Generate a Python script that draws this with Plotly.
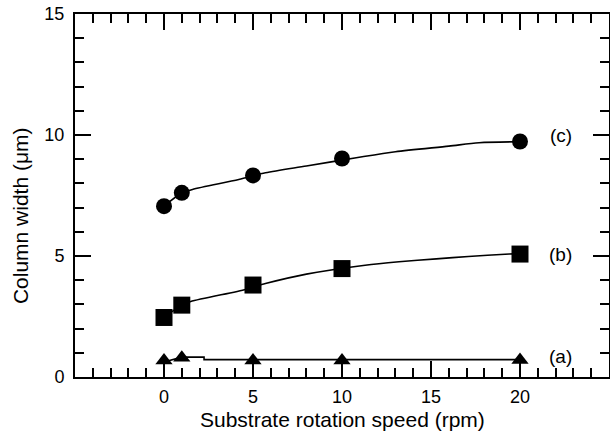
import plotly.graph_objects as go

# measured points
speed = [0, 1, 5, 10, 20]
width_c = [7.06, 7.61, 8.33, 9.03, 9.73]
width_b = [2.46, 2.97, 3.80, 4.48, 5.08]
width_a = [0.68, 0.80, 0.68, 0.68, 0.70]

# fitted curves
fit_c_x = [0, 1, 1.6, 4.2, 5.7, 8, 10.8, 13, 16, 17.7, 20]
fit_c_y = [7.06, 7.6, 7.75, 8.16, 8.44, 8.72, 9.06, 9.31, 9.54, 9.68, 9.72]
fit_b_x = [0, 1, 1.5, 4.6, 5.7, 8, 11.3, 13.2, 15.3, 17.1, 19.4, 20]
fit_b_y = [2.46, 2.97, 3.12, 3.62, 3.86, 4.25, 4.62, 4.76, 4.88, 4.98, 5.08, 5.10]
fit_a_x = [0, 1, 2.25, 2.25, 20]
fit_a_y = [0.62, 0.82, 0.82, 0.72, 0.72]

x_ticks = [0, 5, 10, 15, 20]
y_ticks = [0, 5, 10, 15]
curve_labels = ["(c)", "(b)", "(a)"]
label_y = [10.0, 5.05, 0.83]

FONT = "Liberation Sans, Arial, Helvetica, sans-serif"

fig = go.Figure()
for fx, fy, shp in [(fit_c_x, fit_c_y, "spline"), (fit_b_x, fit_b_y, "spline"),
                    (fit_a_x, fit_a_y, "linear")]:
    fig.add_trace(go.Scatter(x=fx, y=fy, mode="lines",
                             line=dict(color="black", width=1.6, shape=shp, smoothing=0.8),
                             showlegend=False, hoverinfo="skip"))
fig.add_trace(go.Scatter(x=speed, y=width_c, mode="markers",
                         marker=dict(symbol="circle", size=16, color="black"),
                         showlegend=False))
fig.add_trace(go.Scatter(x=speed, y=width_b, mode="markers",
                         marker=dict(symbol="square", size=17, color="black"),
                         showlegend=False))
fig.add_trace(go.Scatter(x=speed, y=width_a, mode="markers",
                         marker=dict(symbol="triangle-up", size=15, color="black"),
                         showlegend=False))

for t, yy in zip(curve_labels, label_y):
    fig.add_annotation(x=22.3, y=yy, xref="x", yref="y", text=t, showarrow=False,
                       font=dict(family=FONT, size=19, color="black"))

fig.add_annotation(x=0.5, y=-0.117, xref="paper", yref="paper",
                   text="Substrate rotation speed (rpm)", showarrow=False,
                   xanchor="center", yanchor="middle",
                   font=dict(family=FONT, size=21, color="black"))
fig.add_annotation(x=-0.103, y=0.446, xref="paper", yref="paper",
                   text="Column width (μm)", showarrow=False, textangle=-90,
                   xanchor="center", yanchor="middle",
                   font=dict(family=FONT, size=21, color="black"))

axis_common = dict(showgrid=False, zeroline=False, showline=True, linecolor="black",
                   linewidth=2, mirror="ticks", ticks="inside", tickwidth=2,
                   ticklen=16, tickcolor="black", automargin=False,
                   tickfont=dict(family=FONT, size=18, color="black"))
fig.update_xaxes(range=[-5, 25], tickmode="array", tickvals=x_ticks,
                 minor=dict(tickmode="linear", tick0=0, dtick=1, ticks="inside",
                            ticklen=9, tickwidth=2, tickcolor="black"),
                 ticklabelstandoff=2, **axis_common)
fig.update_yaxes(range=[0, 15], tickmode="array", tickvals=y_ticks,
                 minor=dict(tickmode="linear", tick0=0, dtick=1, ticks="inside",
                            ticklen=9, tickwidth=2, tickcolor="black"),
                 ticklabelstandoff=5, **axis_common)

fig.update_layout(width=610, height=433, margin=dict(l=75, r=1, t=14, b=56),
                  plot_bgcolor="white", paper_bgcolor="white",
                  font=dict(family=FONT, color="black"))

fig.write_html("out.html", config={"displayModeBar": False},
               post_script="document.body.style.margin='0';document.body.style.padding='0';document.body.style.overflow='hidden';")
